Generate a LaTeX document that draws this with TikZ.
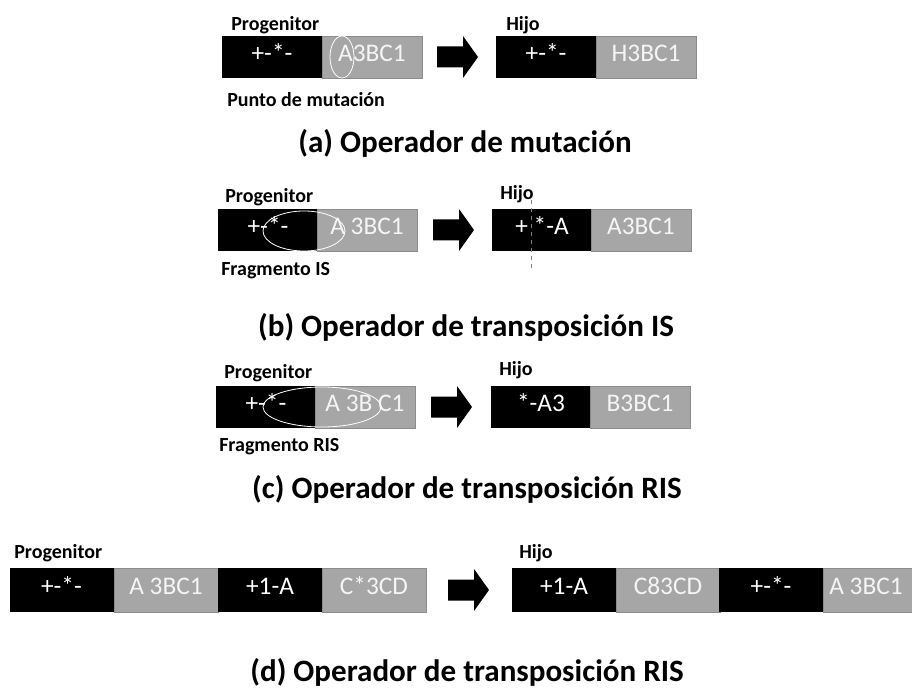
\documentclass[tikz,border=0pt]{standalone}
\usepackage{fontspec}
\setmainfont{Carlito}
\definecolor{boxgray}{RGB}{166,166,166}
\definecolor{edgegray}{RGB}{140,140,140}
\definecolor{softwhite}{RGB}{245,245,245}
\begin{document}
\begin{tikzpicture}[x=0.75pt,y=-0.75pt,
  cell/.style={rectangle, inner xsep=0pt, minimum width=75pt, minimum height=31.5pt,
    text height=12.5pt, text depth=5.5pt, inner ysep=0pt,
    font=\fontsize{19}{21}\selectfont},
  blk/.style={cell, fill=black, text=white},
  gry/.style={cell, fill=boxgray, draw=edgegray, line width=0.5pt, text=softwhite},
  wide/.style={minimum width=78pt, minimum height=33pt},
  lbl/.style={anchor=west, inner sep=0pt, font=\bfseries\fontsize{15}{17}\selectfont},
  ttl/.style={inner sep=0pt, font=\bfseries\fontsize{23.3}{26}\selectfont},
  oval/.style={draw=white, line width=0.6pt},
  bigarrow/.pic={\fill[black] (0,-10.5) -- (26,-10.5) -- (26,-21) -- (41,0) -- (26,21) -- (26,10.5) -- (0,10.5) -- cycle;}
]
\useasboundingbox (0,0) rectangle (912,691);

% ---------- (a) ----------
\node[lbl] (aP) at (231,25) {Progenitor};
\node[blk] (a1) at (272,57) {+-*-};
\node[gry] (a2) at (372,57) {A3BC1};
\draw[oval] (342,57) ellipse [x radius=12, y radius=21];
\pic at (437,57) {bigarrow};
\node[lbl] (aH) at (506,25) {Hijo};
\node[blk] (a3) at (546,57) {+-*-};
\node[gry] (a4) at (646,57) {H3BC1};
\node[lbl] (aM) at (227,100) {Punto de mutación};
\node[ttl] (aT) at (465,143) {(a) Operador de mutación};

% ---------- (b) ----------
\node[lbl] (bP) at (225,197) {Progenitor};
\node[blk] (b1) at (268,230) {+-*-};
\node[gry] (b2) at (367,230) {A 3BC1};
\draw[oval] (304,231) ellipse [x radius=41, y radius=20];
\pic at (433,230) {bigarrow};
\node[lbl] (bH) at (500,194) {Hijo};
\node[blk] (b3) at (542,230) {+ *-A};
\node[gry] (b4) at (641,230) {A3BC1};
\coordinate (bcut1) at (531,200);
\coordinate (bcut2) at (531,268);
\draw[gray, dashed, line width=0.6pt] (bcut1) -- (bcut2);
\node[lbl] (bF) at (221,271) {Fragmento IS};
\node[ttl] (bT) at (466,327) {(b) Operador de transposición IS};

% ---------- (c) ----------
\node[lbl] (cP) at (224,373) {Progenitor};
\node[blk] (c1) at (266,407) {+-*-};
\node[gry] (c2) at (365,407) {A 3B C1};
\draw[oval] (322,407) ellipse [x radius=59, y radius=20];
\pic at (431,407) {bigarrow};
\node[lbl] (cH) at (499,370) {Hijo};
\node[blk] (c3) at (541,407) {*-A3};
\node[gry] (c4) at (640,407) {B3BC1};
\node[lbl] (cF) at (219,447) {Fragmento RIS};
\node[ttl] (cT) at (467,489) {(c) Operador de transposición RIS};

% ---------- (d) ----------
\node[lbl] (dP) at (14,553) {Progenitor};
\node[blk, wide] (d1) at (61.5,590) {+-*-};
\node[gry, wide] (d2) at (166,590) {A 3BC1};
\node[blk, wide] (d3) at (270,590) {+1-A};
\node[gry, wide] (d4) at (374,590) {C*3CD};
\pic at (448,590) {bigarrow};
\node[lbl] (dH) at (519,553) {Hijo};
\node[blk, wide] (d5) at (564,590) {+1-A};
\node[gry, wide] (d6) at (668,590) {C83CD};
\node[blk, wide] (d7) at (771,590) {+-*-};
\node[gry, wide, minimum width=75pt] (d8) at (873,590) {};
\node[anchor=west, inner xsep=0pt, inner ysep=0pt, text height=12.5pt, text depth=5.5pt, text=softwhite, font=\fontsize{19}{21}\selectfont] (d8t) at (829,590) {A 3BC1};
\node[ttl] (dT) at (467,672) {(d) Operador de transposición RIS};
\end{tikzpicture}
\end{document}
